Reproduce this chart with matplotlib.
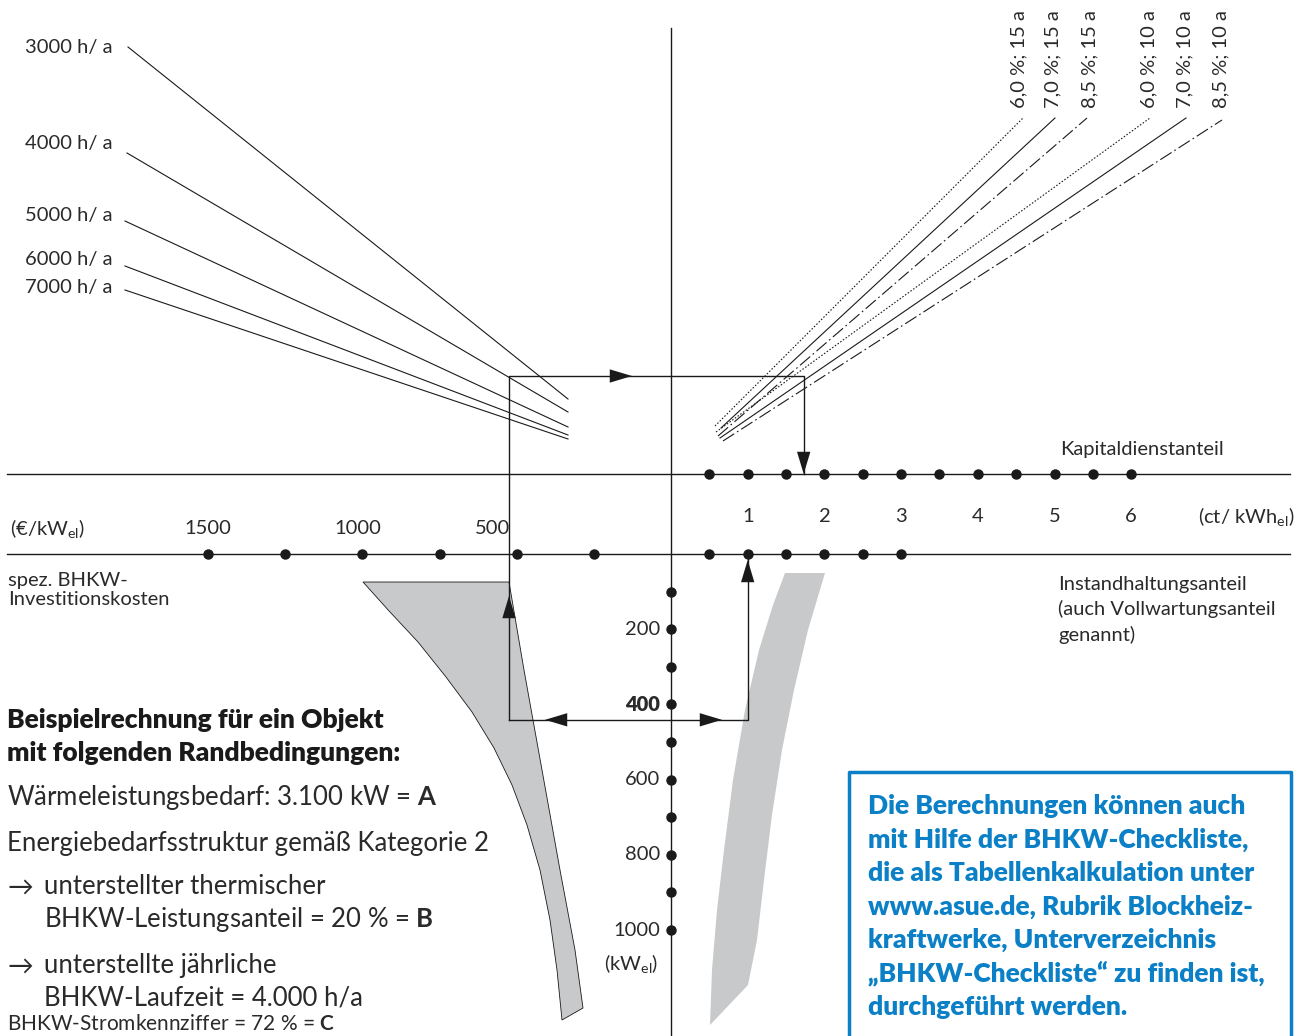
import numpy as np
import matplotlib
matplotlib.use("Agg")
import matplotlib.pyplot as plt

plt.rcParams['font.family'] = ['Lato', 'DejaVu Sans']
plt.rcParams['mathtext.fontset'] = 'custom'
plt.rcParams['mathtext.rm'] = 'Lato'
plt.rcParams['mathtext.bf'] = 'Lato:bold'

# ---- nomogram scales ----
invest_dots = [1500, 1250, 1000, 750, 500, 250]          # EUR/kWel
invest_labels = [1500, 1000, 500]
ct_kapital_dots = [0.5, 1, 1.5, 2, 2.5, 3, 3.5, 4, 4.5, 5, 5.5, 6]   # ct/kWhel
ct_instand_dots = [0.5, 1, 1.5, 2, 2.5, 3]
ct_labels = [1, 2, 3, 4, 5, 6]
kw_dots = [100, 200, 300, 400, 500, 600, 700, 800, 900, 1000]   # kWel
kw_labels = [200, 400, 600, 800, 1000]

# runtime fan (upper left): label y, start point, end y at x=568
hours = ["3000 h/ a", "4000 h/ a", "5000 h/ a", "6000 h/ a", "7000 h/ a"]
hours_label_y = [48, 144, 216, 259, 288]
hours_start = [(128, 47), (127, 153), (125, 221), (125, 266), (125, 290)]
hours_end_y = [399, 412, 427, 435, 439]

# interest / depreciation fan (upper right)
rates = ["6,0 %; 15 a", "7,0 %; 15 a", "8,5 %; 15 a",
         "6,0 %; 10 a", "7,0 %; 10 a", "8,5 %; 10 a"]
rate_label_x = [1019, 1053, 1090, 1149, 1185, 1221]
rate_start = [(715, 426), (721, 428), (718, 436), (716, 432), (720, 438), (723, 441)]
rate_end = [(1023, 118), (1055, 118), (1087, 118), (1150, 118), (1186, 118), (1222, 120)]
rate_style = ['dot', 'solid', 'dashdot', 'dot', 'solid', 'dashdot']

# example path
ex_invest = 525
ex_kw = 441
ex_instand = 1.0
ex_kapital = 1.73
ex_top_y = 376

# geometry of the diagram (pixels)
x0 = 671          # vertical axis
y_kap = 474       # Kapitaldienstanteil line
y_inv = 554       # investment / Instandhaltung line
px_per_eur = 0.3086
px_per_ct = 76.7
px_per_kw = 0.376


def x_inv(v):
    return x0 - px_per_eur * np.asarray(v, dtype=float)


def x_ct(v):
    return x0 + px_per_ct * np.asarray(v, dtype=float)


def y_kw(v):
    return y_inv + px_per_kw * np.asarray(v, dtype=float)


fig = plt.figure(figsize=(13.06, 10.36), dpi=100)
ax = fig.add_axes([0, 0, 1, 1])
ax.set_xlim(0, 1306)
ax.set_ylim(1036, 0)
ax.axis('off')

gray = '#c8c9cb'
blue = '#0c80c6'
ink = '#1a1a1a'
txt = '#2a2a2a'

# gray bands
left_band_x = [363, 509, 524, 542, 560, 575, 583, 562, 557, 550, 540, 527, 512, 494, 472, 446, 418, 390]
left_band_y = [582, 582, 670, 770, 870, 950, 1008, 1020, 970, 920, 870, 825, 785, 748, 712, 677, 642, 612]
ax.fill(left_band_x, left_band_y, color=gray, ec=ink, lw=0.6, zorder=1)
right_band_x = [785, 825, 808, 794, 782, 772, 764, 757, 748, 710, 712, 717, 724, 733, 745, 759, 773]
right_band_y = [573, 573, 630, 690, 750, 815, 880, 940, 985, 1025, 970, 910, 850, 780, 710, 650, 605]
ax.fill(right_band_x, right_band_y, color=gray, lw=0, zorder=1)

# main axes lines
ax.plot([7, 1290], [y_kap, y_kap], color=ink, lw=1.0, zorder=2)
ax.plot([7, 1290], [y_inv, y_inv], color=ink, lw=1.0, zorder=2)
ax.plot([x0, x0], [28, 1036], color=ink, lw=1.0, zorder=2)

# scale dots
ms = 6.5
ax.plot(x_inv(invest_dots), [y_inv] * len(invest_dots), 'o', color=ink, ms=ms, zorder=4)
ax.plot(x_ct(ct_kapital_dots), [y_kap] * len(ct_kapital_dots), 'o', color=ink, ms=ms, zorder=4)
ax.plot(x_ct(ct_instand_dots), [y_inv] * len(ct_instand_dots), 'o', color=ink, ms=ms, zorder=4)
ax.plot([x0] * len(kw_dots), y_kw(kw_dots), 'o', color=ink, ms=ms, zorder=4)

# fan lines left
for lab, ly, (sx, sy), ey in zip(hours, hours_label_y, hours_start, hours_end_y):
    ax.plot([sx, 568], [sy, ey], color=ink, lw=0.8, zorder=2)
    ax.text(25, ly, lab, fontsize=14.5, color=txt, va='center', ha='left')

# fan lines right
styles = {'dot': (0, (1.4, 1.6)), 'solid': '-', 'dashdot': (0, (12, 3, 1.5, 3))}
for lab, lx, (sx, sy), (ex, ey), st in zip(rates, rate_label_x, rate_start, rate_end, rate_style):
    ax.plot([sx, ex], [sy, ey], color=ink, lw=0.8, linestyle=styles[st], zorder=2)
    ax.text(lx, 108, lab, fontsize=14.5, color=txt, rotation=90, ha='center', va='bottom')

# example path
xi = float(x_inv(ex_invest))
xk = float(x_ct(ex_kapital))
xm = float(x_ct(ex_instand))
yk = float(y_kw(ex_kw))
ax.plot([xi, xi, xk, xk], [yk, ex_top_y, ex_top_y, y_kap], color=ink, lw=1.0, zorder=3)
ax.plot([xi, xm, xm], [yk, yk, y_inv], color=ink, lw=1.0, zorder=3)

arrows = [((xi, 596), (xi, 620)), ((632, ex_top_y), (610, ex_top_y)),
          ((xk, y_kap), (xk, y_kap - 22)), ((545, yk), (567, yk)),
          ((722, yk), (700, yk)), ((xm, 560), (xm, 582))]
for tip, tail in arrows:
    ax.annotate('', xy=tip, xytext=tail, zorder=5,
                arrowprops=dict(arrowstyle='-|>,head_length=1.0,head_width=0.3',
                                mutation_scale=16, color=ink, lw=0,
                                shrinkA=0, shrinkB=0))

# scale labels
ax.text(10, 529, '(€/kW$_\\mathrm{el}$)', fontsize=14.5, color=txt, va='center', ha='left')
for v, dx in zip(invest_labels, [0, -5, -24]):
    ax.text(float(x_inv(v)) + dx, 529, str(v), fontsize=14.5, color=txt, va='center', ha='center')
ax.text(8, 590, 'spez. BHKW-\nInvestitionskosten', fontsize=14.5, color=txt,
        va='center', ha='left', linespacing=1.15)
for v in ct_labels:
    ax.text(float(x_ct(v)), 516, str(v), fontsize=14.5, color=txt, va='center', ha='center')
ax.text(1198, 517, '(ct/ kWh$_\\mathrm{el}$)', fontsize=14.5, color=txt, va='center', ha='left')
ax.text(1060, 450, 'Kapitaldienstanteil', fontsize=14.5, color=txt, va='center', ha='left')
ax.text(1058, 610, 'Instandhaltungsanteil\n(auch Vollwartungsanteil\ngenannt)', fontsize=14.5,
        color=txt, va='center', ha='left', linespacing=1.5)
for v in kw_labels:
    ax.text(660, float(y_kw(v)), str(v), fontsize=14.5, color=txt, va='center', ha='right',
            fontweight='heavy' if v == 400 else 'normal')
ax.text(631, 964, '(kW$_\\mathrm{el}$)', fontsize=14.5, color=txt, va='center', ha='center')

# example text block
ax.text(7, 720, 'Beispielrechnung für ein Objekt', fontsize=19, fontweight='heavy', color=ink, va='center')
ax.text(7, 753, 'mit folgenden Randbedingungen:', fontsize=19, fontweight='heavy', color=ink, va='center')
body = 18.5
ax.text(7, 798, 'Wärmeleistungsbedarf: 3.100 kW = $\\mathbf{A}$', fontsize=body, color=txt, va='center')
ax.text(7, 843, 'Energiebedarfsstruktur gemäß Kategorie 2', fontsize=body, color=txt, va='center')
ax.text(7, 887, '→', fontsize=body, color=txt, va='center')
ax.text(44, 887, 'unterstellter thermischer', fontsize=body, color=txt, va='center')
ax.text(44, 920, 'BHKW-Leistungsanteil = 20 % = $\\mathbf{B}$', fontsize=body, color=txt, va='center')
ax.text(7, 966, '→', fontsize=body, color=txt, va='center')
ax.text(44, 966, 'unterstellte jährliche', fontsize=body, color=txt, va='center')
ax.text(44, 998, 'BHKW-Laufzeit = 4.000 h/a', fontsize=body, color=txt, va='center')
ax.text(7, 1024, 'BHKW-Stromkennziffer = 72 % = $\\mathbf{C}$', fontsize=15, color=txt, va='center')

# blue info box
ax.plot([849, 849, 1291, 1291], [1040, 772, 772, 1040], color=blue, lw=2.5, zorder=3)
box_lines = ['Die Berechnungen können auch', 'mit Hilfe der BHKW-Checkliste,',
             'die als Tabellenkalkulation unter', 'www.asue.de, Rubrik Blockheiz-',
             'kraftwerke, Unterverzeichnis', '„BHKW-Checkliste“ zu finden ist,',
             'durchgeführt werden.']
for i, line in enumerate(box_lines):
    ax.text(868, 806 + i * 33.5, line, fontsize=19, fontweight='heavy', color=blue, va='center')

fig.savefig('out.png', dpi=100)
